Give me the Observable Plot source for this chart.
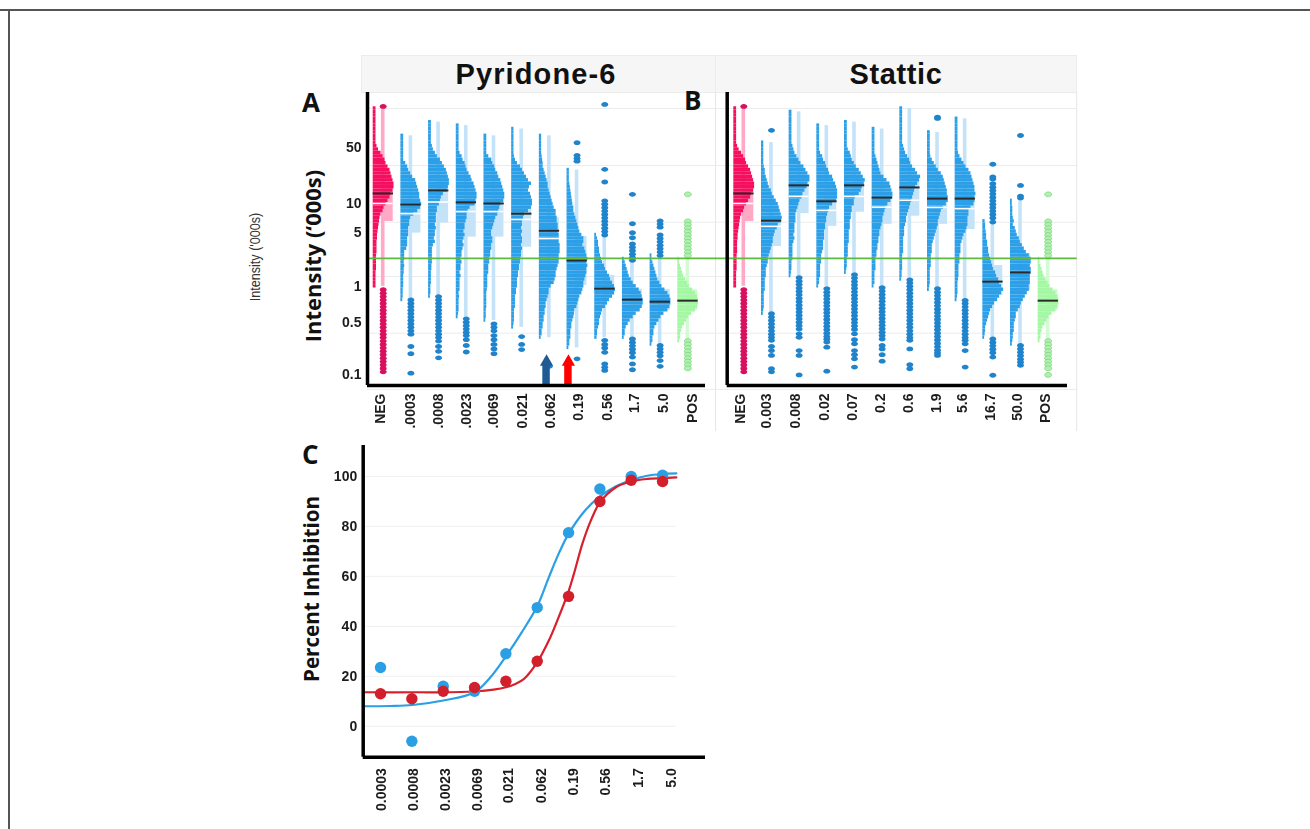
<!DOCTYPE html>
<html>
<head>
<meta charset="utf-8">
<script src="https://cdn.jsdelivr.net/npm/d3@7"></script>
<script src="https://cdn.jsdelivr.net/npm/@observablehq/plot@0.6"></script>
<style>
  html,body{margin:0;padding:0;background:#fff;}
  #page{position:relative;width:1310px;height:829px;overflow:hidden;background:#fff;font-family:"Liberation Sans",sans-serif;}
  #page svg{position:absolute;overflow:visible;background:transparent;filter:blur(.35px);}
  .abs{position:absolute;}
  .head{position:absolute;top:55px;height:36px;background:#f6f6f6;border:1px solid #ececec;box-sizing:content-box;text-align:center;font:700 29px/36px "Liberation Sans",sans-serif;color:#111;letter-spacing:.6px;}
  .letter{position:absolute;z-index:5;font:700 26px/26px "Open Sans",sans-serif;color:#111;}
  .ytitle{position:absolute;transform:translate(-50%,-50%) rotate(-90deg);white-space:nowrap;font:700 20px/22px "Open Sans",sans-serif;color:#111;}
</style>
</head>
<body>
<div id="page">
  <div class="abs" style="left:0;top:9px;width:1310px;height:2px;background:#555"></div>
  <div class="abs" style="left:8px;top:9px;width:2px;height:820px;background:#555"></div>
  <div class="head" style="left:361px;width:348px;padding-right:5px;letter-spacing:1.1px">Pyridone-6</div>
  <div class="head" style="left:715px;width:360px">Stattic</div>
  <div class="letter" style="left:302px;top:89px">A</div>
  <div class="letter" style="left:684px;top:87px">B</div>
  <div class="letter" style="left:302px;top:441px">C</div>
  <div class="ytitle" style="left:312px;top:256px;font-size:22px">Intensity (‘000s)</div>
  <div class="ytitle" style="left:311px;top:589px;font-size:20.6px">Percent Inhibition</div>
  <div class="ytitle" style="left:255px;top:257px;font:400 14px/16px 'Liberation Sans',sans-serif;color:#333;transform:translate(-50%,-50%) rotate(-90deg) scaleX(.9)">Intensity ('000s)</div>
</div>
<script>
// ---------- shared y positions, thousands of intensity units ----------
const binTopLog = 2.111, binWidthLog = 0.04;           // histogram rows are log-spaced bins
const yDomain = [0.0743, 198.6];
const yTickValues = [0.1, 0.406, 1.07, 4.58, 10, 45.5]; // where the printed labels actually sit
const yTickLabels = ["0.1", "0.5", "1", "5", "10", "50"];
const gridValues = [129, 27.8, 6.04, 1.40, 0.304, 0.0668];
const thresholdValue = 2.28;

// ---------- panel A: Pyridone-6 ----------
const labelsA = ["NEG", ".0003", ".0008", ".0023", ".0069", "0.021", "0.062", "0.19", "0.56", "1.7", "5.0", "POS"];
const tickPosA = [0.26, 1.35, 2.36, 3.37, 4.34, 5.39, 6.40, 7.41, 8.46, 9.43, 10.48, 11.53];
const medianA = [13.1, 9.7, 14.2, 10.3, 10, 7.6, 4.8, 2.15, 1.01, 0.75, 0.71, 0.73];
const whiteA = [10, 7.6, 10.4, 8.05, 8.05, 6.5, 3.9, null, null, null, null, null];
const q1A = [6.15, 4.5, 5.9, 4.04, 4.04, 3.08, 2.15, 1.1, 0.84, 0.62, 0.56, 0.56];
const q3A = [17, 10.7, 18.7, 12.9, 12.9, 10.7, 6.8, 4.1, 1.44, 0.99, 0.99, 0.99];
const startA = [0, 8, 4, 5, 8, 6, 8, 18, 37, 44, 43, 44];
const negRows = [2,2,2,2,2,2,2,2,2,2,2,3,4.5,7,9,11,12,14,16,17,18,19,20,20,19,17,16,14,12,10,9,7,6,5.5,5,4.5,4,3.5,3.5,3,3,3,3,2.5,2.5,2.5,2.5,2.5,2,2,2,2,2];
const posRows = [1,1,2,3,4,5,7,9,11,14,17,19,20,20,19,17,13,10,8,6,4,3,2,2,1];
const rowsA = [
  negRows,
  [2,2,2,2,2,2,2,2,4,6,7,9,11,14,15,16,17,18,18,19,20,19,16,12,9,8,8,7,7,7,6,6,6,5,3,3,3,2.5,3,2.5,2.5,2,2,2,2,1.5,1.5,1.5,1],
  [2,2,2,2,2,2,2,3,4,6,8,11,13,15,17,18,19,20,20,19,18,14,12,11,10,8,8,7,7,7,6,7,6,6,5,6,4,3,3,3,3,3,2.5,2.5,2,2,2,2,1.5,1.5,1.5,1],
  [2,2,2,2,2,2,2,2,3,5,6,8,9,10,12,14,15,17,18,19,20,20,19,18,13,11,10,10,9,8,8,7,8,7,6,7,6,5,5,4,5,4,4,3,4,3,3,3,3,2,2.5,2,2,2,2,1.5,1],
  [2,2,2,2,2,2,4,7,8,10,11,13,14,16,17,18,19,20,20,19,16,15,14,13,11,10,9,8,7,7,8,8,7,7,6,6,5,5,4,4,4,3,3,3,3,2.5,2,2,2,2,2,1.5,1.5,1.5,1],
  [1.5,1.5,1.5,1.5,1.5,1.5,1.5,1.5,2,3,5,8,10,12,14,16,19,17,16,18,19,20,20,19,16,12,11,10,10,9,10,9,10,10,9,10,9,9,8,8,7,7,6,6,5,5,5,4,4,3,3,3,3,2,2,2,2,1.5,1],
  [1.5,1.5,1.5,1.5,1.5,1.5,2,2.5,3,3,4,5,6,7,8,8,9,10,11,12,13,14,16,16,17,17,18,18,18,19,19,19,20,20,20,19,19,19,18,17,16,16,15,14,11,9,9,8,7,6,6,5,5,4,4,3,3,2,2,1],
  [1.5,1.5,1.5,1.5,2,2.5,3,3.5,4,4.5,5,6,6,7,8,9,10,11,12,14,16,16,15,17,18,19,20,19,20,19,19,18,17,16,16,15,14,12,11,10,9,7,6.6,6,5,4,4,3,3,3,2,2,1],
  [1,2,3,3,4,4,5,6,7,9,10,12,14,15,17,19,20,19,17,14,12,10,7,6,5,4,4,3,2,2,1.5],
  [1,2,3,4,5,6,8,10,13,16,18,19,20,20,19,17,13,10,7,5,3,2,2,1],
  [1,1,2,3,4,5,6,7,9,11,14,17,19,20,20,19,17,13,10,8,6,4,3,3,2,2,1],
  posRows
];
const negOutliers = [-0.6,53,54,55,56,57,58,59,60,61,62,63,64,65,66,67,68,69,70,71,72,73,74,75,76,77];
const posOutliers = [25.1,33,34,35,36,37,38,39,40,41,42,43,68,69,70,71,72,73,74,75,76];
const outliersA = [
  negOutliers,
  [56,57,58,59,60,61,62,63,64,65,66,69.6,71.7,77.4],
  [55,56,57,58,59,60,61,62,63,64,65,66,67,68,69.6,71,72.9],
  [61.5,62.5,63.5,64.5,65.5,66.4,67.6,69.3,71.2],
  [63,64,65,66.4,67.6,69,70.3,71.7],
  [66.7,69,70.5],
  [75.4],
  [10,13.7,14.6,15.4,73.2],
  [-1.2,17.8,21.5,27,28,29,30,31,32,33,34,35,36,37,67.8,69,70,71.3,74.7,75.7,76.6],
  [25.1,33.7,36.3,37.8,39.6,40.6,41.6,42.6,43.6,44.4,67.4,68.4,69.4,70.4,71.4,72.7,74.7,76.4],
  [32.9,33.8,34.7,37,38,39,40,41,42,43,69.3,70.3,71.3,72.3,73.7,75.4],
  posOutliers
];

// ---------- panel B: Stattic ----------
const labelsB = ["NEG", "0.003", "0.008", "0.02", "0.07", "0.2", "0.6", "1.9", "5.6", "16.7", "50.0", "POS"];
const tickPosB = [0.24, 1.18, 2.23, 3.28, 4.29, 5.3, 6.31, 7.33, 8.26, 9.28, 10.25, 11.26];
const medianB = [13.1, 6.3, 16.3, 10.6, 16.3, 11.7, 15.4, 11.4, 11.4, 1.22, 1.56, 0.73];
const whiteB = [10, 5.4, 12.1, 8.3, 12.1, 9.06, 10.9, 9, 8.7, null, null, null];
const q1B = [6.15, 3.14, 7.6, 5.4, 7.9, 5.7, 7.1, 5.7, 4.96, 0.84, 0.96, 0.56];
const q3B = [17, 6.8, 20.5, 14.8, 18.7, 12.9, 20.5, 12.9, 12.9, 1.88, 2.6, 0.99];
const startB = [0, 10, 1, 5, 4, 6, 0, 7, 3, 33, 27, 44];
const rowsB = [
  negRows,
  [1.5,1.5,1.5,1.5,1.5,1.5,1.5,2,3,3,4,5,6,7,9,10,12,14,16,17,18,19,20,19,16,15,13,12,11,11,10,9,8,7,6,6,5,4,4,4,3,3,3,3,2,2,2,2,2,1.5,1],
  [2,2,2,2,2,2,2,2,2,2,3,4,5,7,9,11,14,16,18,20,20,18,17,15,13,12,10,9,8,7,6,6,6,5,5,5,4,5,4,3,3,3,3,3,2,2,2,1.5,1],
  [2,2,2,2,2,2,2,2,3,5,6,8,9,11,12,15,16,18,19,20,20,20,19,15,12,11,10,9,9,8,8,7,7,7,6,6,6,5,4,4,4,3,3,3,3,2,2,1],
  [2,2,2,2,2,2,2,2,3,5,6,7,9,11,14,16,18,20,19,17,16,14,10,9,9,7,7,6,6,5,5,5,4,4,4,4,3,3,3,3,2,2,2,1.5,1],
  [2,2,2,2,2,2,2,2,3,4,5,6,7,8,11,14,17,18,19,20,20,18,15,13,12,11,10,10,9,8,7,7,6,6,5,5,4,4,3,3,3,3,2,2,2,2,1],
  [2,2,2,2,2,2,2,2,2,2,2,3,4,5,7,9,10,12,15,17,20,19,17,15,14,13,12,11,10,9,8,7,6,6,5,4,4,4,3,3,3,3,3,2,2,2,2,2,1.5,1.5,1],
  [2,2,2,2,2,2,2,2.5,4,6,8,10,13,15,16,17,18,19,19,20,20,18,15,13,12,11,10,10,9,8,7,6,5,4,4,4,3,3,3,3,2,2,2,2,2,1.5,1],
  [2,2,2,2,2,2,2,2,2,2,2.5,4,6,8,10,13,15,16,17,18,19,19,20,19,19,18,15,13,13,12,12,12,11,10,8,7,6,5,5,5,4,4,4,3,3,3,3,2.5,2,2,2,2,1.5,1],
  [1.5,2,2,2.5,3,3,4,4,5,5,6,7,8,9,10,12,13,15,16,18,20,18,16,14,11,9,7,6,5,4,3,2,2,1.5,1],
  [1,1,1.5,1.5,1.5,2,3,2,4,5,6,8,9,11,13,15,18,20,20,19,20,20,19,19,19,18,18,16,14,12,10,9,7,5,5,4,3,3,3,2,2,1.5,1],
  posRows
];
const outliersB = [
  negOutliers,
  [6.4,60,61,62,63,64,65,66,66.9,67.8,69.6,70.8,72.2,76.1,77],
  [49.5,50.5,51.5,52.5,53.5,54.5,55.5,56.5,57.5,58.5,59.5,60.5,61.5,62.5,63.5,64.5,65.9,66.9,70.8,72.2,77.9],
  [52.7,53.7,54.7,55.7,56.7,57.7,58.7,59.7,60.7,61.7,62.7,63.7,64.7,65.7,66.7,67.5,68.3,69.8,76.8],
  [48.6,49.6,50.6,51.6,52.6,53.6,54.6,55.6,56.6,57.6,58.6,59.6,60.6,61.6,62.6,63.6,64.6,65.9,67.6,68.8,70.8,72,73.2,75.6],
  [52.4,53.4,54.4,55.4,56.4,57.4,58.4,59.4,60.4,61.4,62.4,63.4,64.4,65.4,66.4,67.4,69.3,70.3,72,73.9],
  [50.1,51,52,53,54,55,56,57,58,59,60,61,62,63,64,65,66,67,67.8,70.3,74.9,76.1],
  [2.5,2.9,52.7,53.7,54.7,55.7,56.7,57.7,58.7,59.7,60.7,61.7,62.7,63.7,64.7,65.7,66.7,67.7,68.7,69.7,70.7,71.5,72.2],
  [56.1,57,58,59,60,61,62,63,64,65,66,67,67.8,68.8,70.8,75.6],
  [16.3,20,20.6,22,23,24,25,26,27,28,29,30,31,32,33.2,67.4,68.4,69.4,70.4,71.4,72.7,78],
  [7.9,22.5,25.6,26.2,69.3,70.3,71.3,72.3,73.3,74.2,75.1],
  [25.1,33,34,35,36,37,38,39,40,41,42,43,68,69,70,71,72,73,74,75,76,77.9]
];

// ---------- block arrows in panel A ----------
const arrowCols = [6.26, 7.05];
const arrowColors = ["#1f5a94", "#ff0000"];
const arrowTipValue = 0.138, arrowHeadValue = 0.14;

// ---------- panel C: dose-response ----------
const doses = ["0.0003", "0.0008", "0.0023", "0.0069", "0.021", "0.062", "0.19", "0.56", "1.7", "5.0"];
const doseTickPos = [0.02, 1.04, 2.08, 3.09, 4.09, 5.13, 6.16, 7.19, 8.23, 9.3];
const bluePts = [23.5, -6, 16, 14, 29, 47.5, 77.5, 95, 100, 100.5];
const redPts = [13, 11, 14, 15.5, 18, 26, 52, 90, 98.5, 98];
const blueCurveX = [-0.51, 0.32, 1.02, 2, 3, 3.5, 4, 4.5, 5, 5.37, 5.7, 6, 6.5, 7, 7.5, 7.99, 8.51, 9, 9.44];
const blueCurveY = [8, 8.1, 8.5, 10.3, 13.6, 19.5, 28, 37.5, 48, 59.6, 69.5, 77, 86, 92, 96, 98.5, 100.3, 101, 101.2];
const redCurveX = [-0.51, 1.02, 3.01, 4, 4.57, 5, 5.37, 5.64, 6, 6.17, 6.44, 6.7, 7, 7.5, 7.99, 8.51, 9, 9.44];
const redCurveY = [13.6, 13.6, 13.9, 15.6, 18.9, 25.6, 34.3, 42.3, 54, 61, 73, 82, 89.6, 95.6, 98, 99, 99.3, 99.6];

// ---------- colours ----------
const cols = {
  neg: {hist: "#f70f5f", light: "#ffa9c6", dot: "#d90f5f", dotStroke: "none"},
  mid: {hist: "#2b9fe8", light: "#c4e3f9", dot: "#1f84cb", dotStroke: "none"},
  pos: {hist: "#a4f8a4", light: "#d2fbd2", dot: "#b2efb2", dotStroke: "#6fd46f"}
};
const kindOf = (i) => i === 0 ? "neg" : i === 11 ? "pos" : "mid";
const binValue = (k) => Math.pow(10, binTopLog - k * binWidthLog);
const histW = 20 / 27.69, whiskerL = 8.2 / 27.69, whiskerR = 11.8 / 27.69, centre = 10 / 27.69;

const ellipse = {
  draw(ctx, size) {
    const r = Math.sqrt(size / Math.PI), a = r * 1.15, b = r * 0.8, c = 0.5523;
    ctx.moveTo(-a, 0);
    ctx.bezierCurveTo(-a, -b * c, -a * c, -b, 0, -b);
    ctx.bezierCurveTo(a * c, -b, a, -b * c, a, 0);
    ctx.bezierCurveTo(a, b * c, a * c, b, 0, b);
    ctx.bezierCurveTo(-a * c, b, -a, b * c, -a, 0);
    ctx.closePath();
  }
};

function panel({labels, tickPos, median, white, q1, q3, start, rows, outliers, left, width, marginLeft, marginRight, xDomain, gridX, showY, extra}) {
  const idx = d3.range(12);
  const rowData = idx.flatMap((i) => rows[i].map((w, j) => ({i, k: start[i] + j, w})));
  const dotData = idx.flatMap((i) => outliers[i].map((k) => ({i, k})));
  const tickMap = new Map(tickPos.map((p, i) => [p, labels[i]]));
  const plot = Plot.plot({
    width, height: 340, marginTop: 0, marginBottom: 47, marginLeft, marginRight,
    x: {domain: xDomain, axis: null},
    y: {type: "log", domain: yDomain, axis: null},
    color: {type: "identity"},
    style: {fontFamily: "'Liberation Sans',sans-serif", fontWeight: 700, fontSize: "14px", color: "#1c1c1c", background: "transparent", left: left + "px", top: "92px"},
    marks: [
      Plot.ruleY(gridValues, {x1: gridX[0], x2: gridX[1], stroke: "#ececec", strokeWidth: 1}),
      Plot.ruleX([gridX[1]], {y1: yDomain[1], y2: 0.0215, stroke: "#e6e6e6", strokeWidth: 1}),
      Plot.rect(idx, {x1: (i) => i + whiskerL, x2: (i) => i + whiskerR,
        y1: (i) => binValue(start[i] + rows[i].length - 1), y2: (i) => binValue(start[i]),
        fill: (i) => cols[kindOf(i)].light}),
      Plot.rect(idx, {x1: (i) => i + centre, x2: (i) => i + histW, y1: (i) => q1[i], y2: (i) => q3[i],
        fill: (i) => cols[kindOf(i)].light}),
      Plot.rect(rowData, {x1: (d) => d.i, x2: (d) => d.i + (d.w + 0.8) / 27.69,
        y1: (d) => binValue(d.k + 0.5), y2: (d) => binValue(d.k - 0.5),
        fill: (d) => cols[kindOf(d.i)].hist}),
      Plot.ruleY(idx.filter((i) => white[i] != null), {y: (i) => white[i], x1: (i) => i, x2: (i) => i + histW, stroke: "#ffffff", strokeWidth: 1.6}),
      Plot.ruleY(idx, {y: (i) => median[i], x1: (i) => i, x2: (i) => i + histW + 0.01, stroke: "#2a2a2a", strokeWidth: 2}),
      Plot.dot(dotData, {x: (d) => d.i + centre, y: (d) => binValue(d.k), r: 3, symbol: ellipse,
        fill: (d) => cols[kindOf(d.i)].dot, stroke: (d) => cols[kindOf(d.i)].dotStroke, strokeWidth: 0.7}),
      Plot.ruleY([thresholdValue], {x1: gridX[0], x2: gridX[1] + 0.02, stroke: "#5dbb3f", strokeWidth: 1.6}),
      ...(extra || []),
      Plot.ruleX([xDomain[0]], {y1: yDomain[0], y2: yDomain[1], stroke: "#000", strokeWidth: 3.5}),
      Plot.ruleY([yDomain[0]], {x1: xDomain[0], x2: xDomain[1], stroke: "#000", strokeWidth: 3.5}),
      Plot.axisX({ticks: tickPos, tickFormat: (d) => tickMap.get(d), tickRotate: -90, tickSize: 0, tickPadding: 8, label: null}),
      ...(showY ? [Plot.text(yTickValues, {x: xDomain[0], y: (d) => d, text: (d, i) => yTickLabels[i], dx: -6, textAnchor: "end"})] : [])
    ]
  });
  document.getElementById("page").appendChild(plot);
}

panel({
  labels: labelsA, tickPos: tickPosA, median: medianA, white: whiteA, q1: q1A, q3: q3A,
  start: startA, rows: rowsA, outliers: outliersA,
  left: 330, width: 386, marginLeft: 37, marginRight: 11, xDomain: [-0.206, 12], gridX: [-0.206, 12.36], showY: true,
  extra: [
    Plot.rect(arrowCols, {x1: (d) => d - 0.135, x2: (d) => d + 0.135, y1: yDomain[0], y2: arrowTipValue,
      fill: (d, i) => arrowColors[i]}),
    Plot.dot(arrowCols, {x: (d) => d, y: arrowHeadValue, r: 4.9, symbol: "triangle", fill: (d, i) => arrowColors[i], stroke: "none"})
  ]
});
panel({
  labels: labelsB, tickPos: tickPosB, median: medianB, white: whiteB, q1: q1B, q3: q3B,
  start: startB, rows: rowsB, outliers: outliersB,
  left: 700, width: 378, marginLeft: 26.7, marginRight: 11, xDomain: [-0.239, 12.06], gridX: [-0.66, 12.39], showY: false
});

// panel C
const cXDomain = [-0.553, 10.37], cYDomain = [-12.4, 112.4];
const doseMap = new Map(doseTickPos.map((p, i) => [p, doses[i]]));
const ptIdx = d3.range(10);
document.getElementById("page").appendChild(Plot.plot({
  width: 400, height: 380, marginTop: 0, marginBottom: 68.3, marginLeft: 42.7, marginRight: 15,
  x: {domain: cXDomain, axis: null},
  y: {domain: cYDomain, axis: null},
  style: {fontFamily: "'Liberation Sans',sans-serif", fontWeight: 700, fontSize: "14px", color: "#1c1c1c", background: "transparent", left: "320px", top: "445px"},
  marks: [
    Plot.ruleY([0, 20, 40, 60, 80, 100], {x1: cXDomain[0], x2: 9.44, stroke: "#f0f0f0", strokeWidth: 1}),
    Plot.line(blueCurveX.map((x, i) => [x, blueCurveY[i]]), {x: (d) => d[0], y: (d) => d[1], curve: "catmull-rom", stroke: "#2a9fe4", strokeWidth: 2.2}),
    Plot.line(redCurveX.map((x, i) => [x, redCurveY[i]]), {x: (d) => d[0], y: (d) => d[1], curve: "catmull-rom", stroke: "#d8202c", strokeWidth: 2.2}),
    Plot.dot(ptIdx, {x: (i) => i, y: (i) => bluePts[i], r: 5.7, fill: "#2a9fe4"}),
    Plot.dot(ptIdx, {x: (i) => i, y: (i) => redPts[i], r: 5.7, fill: "#d11f2b"}),
    Plot.ruleX([cXDomain[0]], {y1: cYDomain[0], y2: cYDomain[1], stroke: "#000", strokeWidth: 3.5}),
    Plot.ruleY([cYDomain[0]], {x1: cXDomain[0], x2: cXDomain[1], stroke: "#000", strokeWidth: 3.5}),
    Plot.axisX({ticks: doseTickPos, tickFormat: (d) => doseMap.get(d), tickRotate: -90, tickSize: 0, tickPadding: 11, label: null}),
    Plot.axisY({ticks: [0, 20, 40, 60, 80, 100], tickSize: 0, tickPadding: 6, label: null})
  ]
}));
</script>
</body>
</html>
